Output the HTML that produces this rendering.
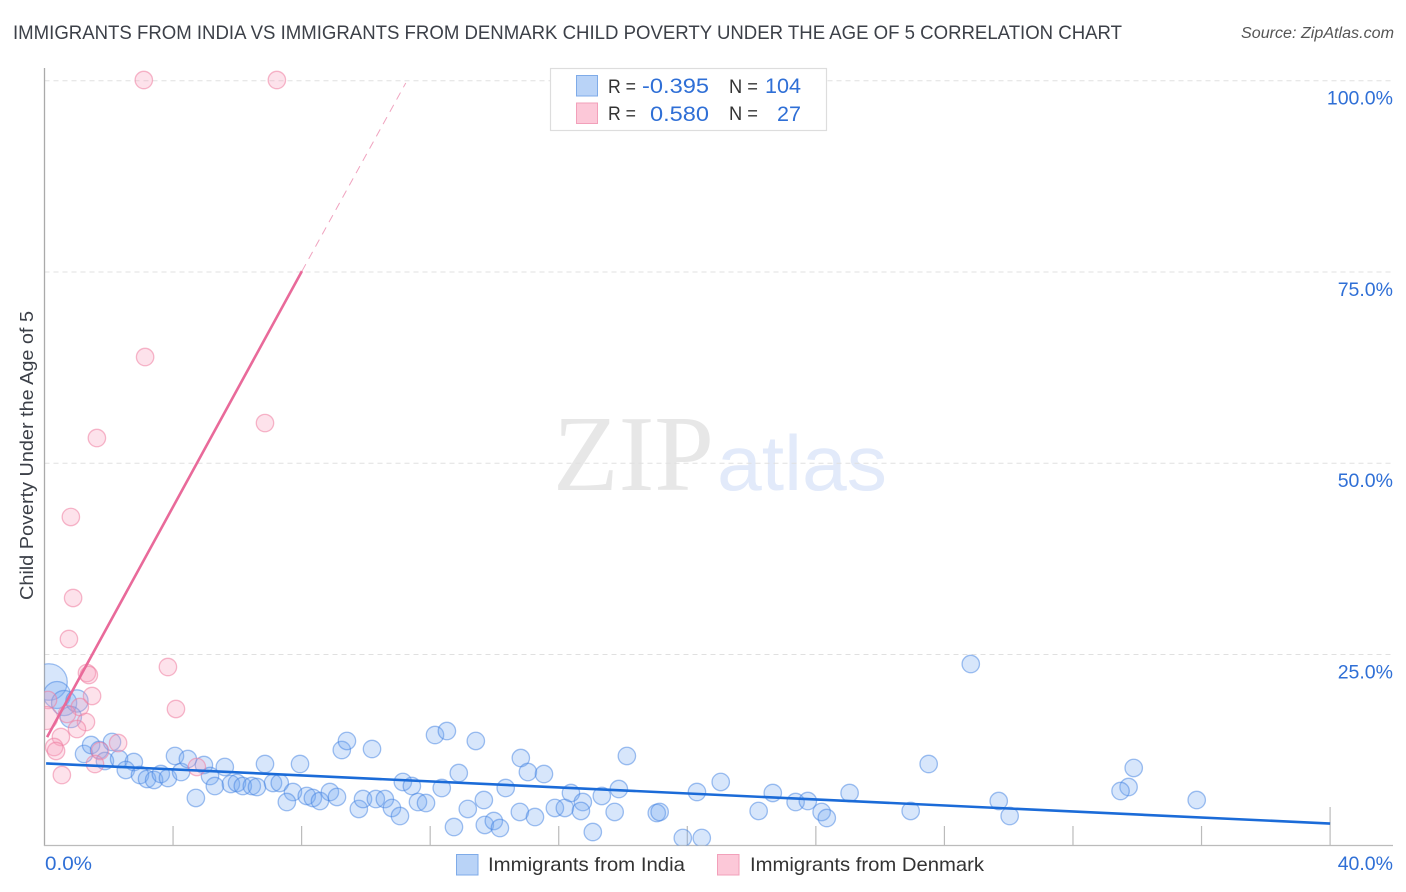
<!DOCTYPE html>
<html lang="en">
<head>
<meta charset="utf-8">
<title>Immigrants from India vs Immigrants from Denmark Child Poverty Correlation Chart</title>
<style>
html,body{margin:0;padding:0;background:#fff;width:1406px;height:892px;overflow:hidden}
svg{display:block;font-family:"Liberation Sans",sans-serif}
</style>
</head>
<body>
<svg id="chart" width="1406" height="892" viewBox="0 0 1406 892" xmlns="http://www.w3.org/2000/svg">
  <defs><clipPath id="plot-clip"><rect x="44.5" y="60" width="1350" height="785.5"/></clipPath></defs>
  <text x="13" y="39" font-size="19" fill="#3c4048" textLength="1109" lengthAdjust="spacingAndGlyphs">IMMIGRANTS FROM INDIA VS IMMIGRANTS FROM DENMARK CHILD POVERTY UNDER THE AGE OF 5 CORRELATION CHART</text>
  <text x="1241" y="38" font-size="15.5" font-style="italic" fill="#555" textLength="153" lengthAdjust="spacingAndGlyphs">Source: ZipAtlas.com</text>
  <text x="553" y="490" font-family="'Liberation Serif',serif" font-size="108" fill="#e7e7e7" textLength="161" lengthAdjust="spacingAndGlyphs">ZIP</text>
  <text x="717" y="490" font-size="78" fill="#e2eafa" textLength="170" lengthAdjust="spacingAndGlyphs">atlas</text>
  <g id="grid"></g>
  <g id="axes"></g>
  <g id="marks" clip-path="url(#plot-clip)"></g>
  <g id="lines"></g>
  <g id="labels"></g>
  <text transform="translate(33,455.5) rotate(-90)" font-size="18.5" fill="#3c4048" text-anchor="middle" textLength="289" lengthAdjust="spacingAndGlyphs">Child Poverty Under the Age of 5</text>

  <g>
    <rect x="550.5" y="68.5" width="276" height="62" fill="#fff" stroke="#ddd" stroke-width="1.2"/>
    <rect x="576.5" y="75.5" width="21" height="20.5" fill="#b9d3f7" stroke="#7fabe8" stroke-width="1"/>
    <rect x="576.5" y="103" width="21" height="20.5" fill="#fcc8d8" stroke="#f2a0ba" stroke-width="1"/>
    <text x="608" y="93" font-size="19" fill="#333" textLength="28" lengthAdjust="spacingAndGlyphs">R =</text>
    <text x="608" y="120" font-size="19" fill="#333" textLength="28" lengthAdjust="spacingAndGlyphs">R =</text>
    <text x="642" y="93" font-size="21.5" fill="#2f6fd6" textLength="67" lengthAdjust="spacingAndGlyphs">-0.395</text>
    <text x="650" y="121" font-size="21.5" fill="#2f6fd6" textLength="59" lengthAdjust="spacingAndGlyphs">0.580</text>
    <text x="729" y="93" font-size="19" fill="#333" textLength="29" lengthAdjust="spacingAndGlyphs">N =</text>
    <text x="729" y="120" font-size="19" fill="#333" textLength="29" lengthAdjust="spacingAndGlyphs">N =</text>
    <text x="765" y="93" font-size="21.5" fill="#2f6fd6" textLength="36" lengthAdjust="spacingAndGlyphs">104</text>
    <text x="777" y="121" font-size="21.5" fill="#2f6fd6" textLength="24" lengthAdjust="spacingAndGlyphs">27</text>
  </g>

  <g>
    <rect x="456.5" y="854.5" width="21.5" height="20.5" fill="#b9d3f7" stroke="#7fabe8" stroke-width="1"/>
    <text x="488" y="871" font-size="19.5" fill="#333" textLength="197" lengthAdjust="spacingAndGlyphs">Immigrants from India</text>
    <rect x="717.5" y="854.5" width="21.5" height="20.5" fill="#fcc8d8" stroke="#f2a0ba" stroke-width="1"/>
    <text x="750" y="871" font-size="19.5" fill="#333" textLength="234" lengthAdjust="spacingAndGlyphs">Immigrants from Denmark</text>
  </g>
</svg>
<script>
const xTickValues = [0,4,8,12,16,20,24,28,32,36,40];
const yTickValues = [25,50,75,100];
const yTickLabels = ["25.0%","50.0%","75.0%","100.0%"];
const xEndLabels = ["0.0%","40.0%"];

const indiaX = [0.14,0.39,0.61,1.01,0.82,1.23,1.45,1.70,1.88,2.10,2.32,2.78,2.53,2.97,3.19,3.41,3.62,3.84,4.06,4.25,4.46,4.96,5.15,5.30,4.71,5.61,5.80,5.99,6.17,6.45,6.61,6.86,7.11,7.32,7.73,7.95,7.54,8.16,8.35,8.57,8.88,9.10,9.25,9.41,10.19,11.15,11.43,9.78,9.91,10.31,10.59,10.81,11.06,11.62,11.87,12.15,12.52,13.42,12.89,12.36,13.17,13.67,12.74,13.70,13.98,14.17,14.35,14.82,15.04,15.54,14.79,15.26,15.88,16.19,16.38,16.75,16.69,17.06,17.34,17.87,17.74,18.12,19.05,19.14,19.86,20.45,20.30,21.04,22.66,22.22,23.37,23.75,24.18,24.34,25.05,26.95,27.51,28.82,29.69,30.03,33.89,33.73,33.48,35.85];
const indiaY = [21.40,19.70,18.65,18.92,16.82,11.99,13.16,12.51,11.07,13.56,11.33,10.94,9.90,9.24,8.72,8.59,9.37,8.85,11.73,9.63,11.33,10.55,9.11,7.80,6.24,10.29,8.07,8.20,7.80,7.80,7.67,10.68,8.20,8.20,7.02,10.68,5.71,6.50,6.24,5.84,7.02,6.37,12.51,13.69,12.64,8.33,7.80,4.80,6.10,6.10,6.10,4.93,3.88,5.71,5.58,14.47,14.99,13.69,9.50,7.54,4.80,5.97,2.44,2.71,3.23,2.31,7.54,11.46,9.63,9.37,4.41,3.75,4.93,4.93,6.89,5.71,4.54,1.79,6.50,7.41,4.41,11.73,4.27,4.41,1.01,1.01,7.02,8.33,6.89,4.54,5.71,5.84,4.41,3.62,6.89,4.54,10.68,23.75,5.84,3.88,10.16,7.67,7.15,5.97];
const indiaWeight = [2.1,1.55,1.45,1.28,1.22];

const denmarkX = [3.09,7.23,3.13,1.63,6.86,0.82,0.89,0.76,1.32,1.38,1.48,3.84,4.09,1.10,0.70,1.29,1.01,0.51,0.30,0.36,2.29,1.73,1.57,0.54,4.74,0.11,0.05];
const denmarkY = [100.09,100.09,63.88,53.29,55.25,42.97,32.38,27.02,22.57,22.31,19.57,23.36,17.87,18.13,17.22,16.17,15.25,14.21,12.90,12.38,13.42,12.38,10.68,9.24,10.29,19.05,16.69];

const indiaTrendX = [0.05,40];
const indiaTrendY = [10.75,2.9];
const denmarkTrendX = [0.08,8.01];
const denmarkTrendY = [14.2,75.1];
const denmarkTrendDashedX = [8.01,11.24];
const denmarkTrendDashedY = [75.1,99.7];

const NS = "http://www.w3.org/2000/svg";
function sx(v){ return 44.5 + v * 32.14; }
function sy(v){ return 845.7 - v * 7.65; }
function mk(tag, attrs, parent){
  const el = document.createElementNS(NS, tag);
  for (const k in attrs) el.setAttribute(k, attrs[k]);
  parent.appendChild(el);
  return el;
}
const grid = document.getElementById("grid");
const axes = document.getElementById("axes");
const marks = document.getElementById("marks");
const lines = document.getElementById("lines");
const labels = document.getElementById("labels");

yTickValues.forEach(function(v, i){
  const g = mk("line", {x1:44.5, x2:1393, y1:sy(v), y2:sy(v), stroke:"#e0e0e0", "stroke-width":1, "stroke-dasharray":"5 4"}, grid);
  
  
  const t = mk("text", {x:1393, y:sy(v)+24, "font-size":19.5, fill:"#2f6fd6", "text-anchor":"end"}, labels);
  t.textContent = yTickLabels[i];
  
  
});

const yAxis = mk("line", {x1:44.5, x2:44.5, y1:68, y2:846, stroke:"#aaa", "stroke-width":1.3}, axes);


const xAxis = mk("line", {x1:44, x2:1393, y1:845.5, y2:845.5, stroke:"#bbb", "stroke-width":1.3}, axes);


xTickValues.forEach(function(v){
  if (v === 0) return;
  const top = v === 40 ? 807 : 826;
  const tk = mk("line", {x1:sx(v), x2:sx(v), y1:top, y2:845.5, stroke:"#bbb", "stroke-width":1.2}, axes);
  
  
});

const xl0 = mk("text", {x:45, y:870, "font-size":19.5, fill:"#2f6fd6", textLength:47, lengthAdjust:"spacingAndGlyphs"}, labels);
xl0.textContent = xEndLabels[0];


const xl1 = mk("text", {x:1393, y:870, "font-size":19.5, fill:"#2f6fd6", "text-anchor":"end"}, labels);
xl1.textContent = xEndLabels[1];



indiaX.forEach(function(v, i){
  const w = indiaWeight[i] || 1;
  const c = mk("circle", {cx:sx(v), cy:sy(indiaY[i]), r:8.7*w, fill:"rgba(110,165,240,0.28)", stroke:"rgba(65,130,225,0.5)", "stroke-width":1.3}, marks);
  
  
});
denmarkX.forEach(function(v, i){
  const c = mk("circle", {cx:sx(v), cy:sy(denmarkY[i]), r:i === 26 ? 11.5 : 8.7, fill:"rgba(248,160,190,0.3)", stroke:"rgba(238,125,160,0.55)", "stroke-width":1.3}, marks);
  
  
});

const pd = mk("line", {x1:sx(denmarkTrendDashedX[0]), y1:sy(denmarkTrendDashedY[0]), x2:sx(denmarkTrendDashedX[1]), y2:sy(denmarkTrendDashedY[1]), stroke:"#f0a3bf", "stroke-width":1, "stroke-dasharray":"8 6"}, lines);


const ps = mk("line", {x1:sx(denmarkTrendX[0]), y1:sy(denmarkTrendY[0]), x2:sx(denmarkTrendX[1]), y2:sy(denmarkTrendY[1]), stroke:"#e96a9a", "stroke-width":2.6}, lines);


const bs = mk("line", {x1:sx(indiaTrendX[0]), y1:sy(indiaTrendY[0]), x2:sx(indiaTrendX[1]), y2:sy(indiaTrendY[1]), stroke:"#1b6bd8", "stroke-width":2.6}, lines);


</script>
</body>
</html>
